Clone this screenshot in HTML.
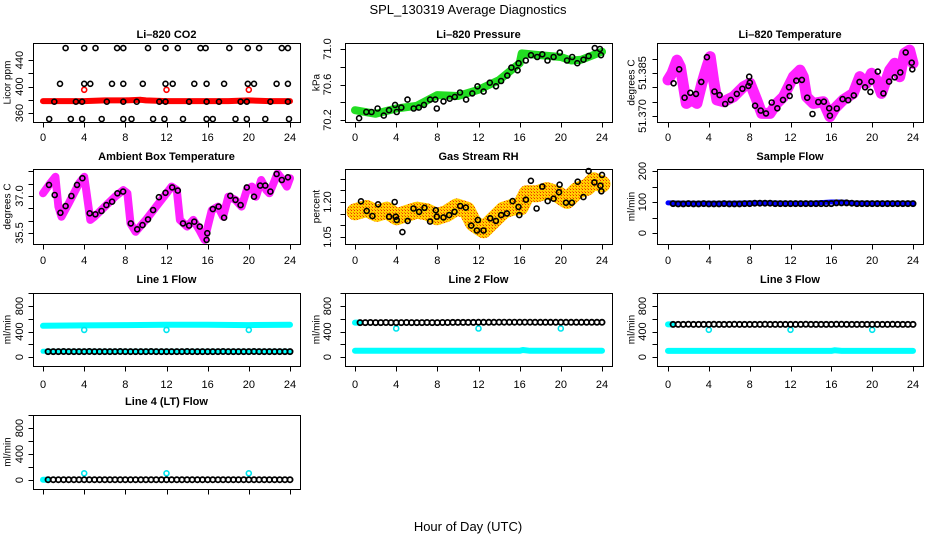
<!DOCTYPE html>
<html><head><meta charset="utf-8">
<style>
html,body{margin:0;padding:0;background:#fff;}
svg{display:block;font-family:"Liberation Sans",Arial,sans-serif;}
</style></head>
<body>
<svg id="c" width="936" height="540" viewBox="0 0 936 540" xmlns="http://www.w3.org/2000/svg">
<defs>
<pattern id="rhpat" width="3" height="3" patternUnits="userSpaceOnUse">
<rect width="3" height="3" fill="#ffd000"/><rect width="1" height="1" fill="#e83000"/><rect x="2" y="2" width="1" height="1" fill="#ff7000"/>
</pattern>
</defs>
<text x="468" y="14" text-anchor="middle" font-size="13">SPL_130319  Average Diagnostics</text>
<text x="468" y="531" text-anchor="middle" font-size="13">Hour of Day (UTC)</text>
</svg>
<script>
// ---------- data ----------
const xTicks = [0,4,8,12,16,20,24];
// CO2
const co2TopH = [2.2,4.0,5.1,7.2,7.8,10.2,11.9,13.1,15.3,15.8,18.1,19.9,21.0,23.2,23.8];
const co2TopV = [458,458,458,458,458,458,458,458,458,458,458,458,458,458,458];
const co2Mid1H = [1.65,4.0,4.6,6.7,7.8,9.7,11.9,12.6,14.7,15.9,17.6,19.9,20.5,22.7,23.8];
const co2Mid1V = [404,404,404,404,404,404,404,404,404,404,404,404,404,404,404];
const co2Mid2H = [1.1,3.2,3.8,6.2,7.8,9.1,11.3,11.9,14.2,15.9,17.1,19.2,19.8,22.1,23.8];
const co2Mid2V = [377,377,377,377,377,377,377,377,377,377,377,377,377,377,377];
const co2LowH = [0.6,2.7,3.8,5.7,7.8,8.6,10.7,11.8,13.6,15.9,16.5,18.7,19.8,21.6,23.9];
const co2LowV = [351,351,351,351,351,351,351,351,351,351,351,351,351,351,351];
const co2BandH = [0,2,4,6,8,9.5,10,12,14,16,18,20,22,24];
const co2BandV = [378,378,378,379,379,380,379,378,378,378,378,379,378,378];
const co2RedH = [4,12,20];
const co2RedV = [395,395,395];
// Pressure
const presBandH = [0,2,4,6,8,10,12,14,16,16.2,18,20,21,22,24];
const presBandV = [70.31,70.27,70.33,70.36,70.48,70.47,70.54,70.65,70.84,70.95,70.93,70.91,70.87,70.88,70.97];
const presH = [0.4,1.1,1.6,2.2,2.8,3.3,3.9,4.05,4.5,5.1,5.7,6.2,6.7,7.3,7.8,7.95,8.6,9.2,9.7,10.2,10.8,11.4,11.9,12.5,13.1,13.7,14.2,14.8,15.2,15.9,15.8,16.6,17.1,17.7,18.2,18.7,19.3,19.9,20.6,21.1,21.6,22.2,22.7,23.3,23.8,23.9];
const presV = [70.22,70.29,70.29,70.33,70.25,70.31,70.37,70.29,70.34,70.43,70.33,70.34,70.37,70.43,70.43,70.33,70.41,70.44,70.46,70.51,70.43,70.50,70.58,70.52,70.62,70.58,70.64,70.70,70.79,70.84,70.76,70.87,70.93,70.91,70.94,70.87,70.91,70.96,70.87,70.91,70.84,70.88,70.92,71.01,71.00,70.93];
// Li-820 temperature (thousandths of a degree above 51.370)
const liTempBase = 51.370;
const liBandH = [0,0.39,0.88,1.2,1.53,1.79,2.34,2.83,3.32,3.81,4.13,4.46,4.79,5.44,6.41,7.39,8.04,8.69,9.18,10.0,10.65,11.3,11.79,12.28,12.93,13.25,13.58,14.23,15.21,15.86,16.35,17.16,18.14,18.79,19.44,19.93,20.42,20.9,21.72,22.21,22.7,23.18,23.67,24];
const liBandMilli = [12.6,14.9,19.5,17.2,10.2,4.4,5.6,4.4,11.4,17.2,20.7,12.6,5.6,5.0,6.7,10.2,11.4,5.6,0.9,0.9,4.4,6.7,10.2,13.7,16.0,13.7,6.7,4.4,5.0,-0.2,2.7,5.6,7.9,13.7,11.4,14.9,12.6,7.9,16.0,18.4,13.7,21.9,23.0,18.4];
const liH = [0.55,1.1,1.63,2.18,2.74,3.26,3.81,4.56,5.05,5.6,6.15,6.74,7.29,7.88,7.95,8.01,8.53,9.08,9.6,10.16,10.71,11.27,11.85,11.92,12.57,13.12,13.64,14.16,14.72,15.27,15.79,15.86,16.54,17.1,17.65,18.2,18.76,19.31,19.83,19.93,20.55,21.1,21.66,22.21,22.76,23.28,23.87,23.93];
const liMilli = [11.4,16.3,6.4,8.1,7.7,11.9,20.5,8.5,7.3,4.2,5.6,7.7,9.5,10.5,13.7,11.6,3.6,1.9,0.9,4.7,2.7,5.6,10.0,7.0,12.3,12.6,6.4,0.7,4.9,5.0,2.7,0.1,2.6,5.9,5.5,7.2,11.9,10.0,8.4,12.0,15.5,7.9,12.0,13.5,15.2,22.2,18.6,16.3];
// Ambient box temperature
const ambBandH = [0,0.7,1.2,1.5,1.8,2.5,3.5,4,4.2,4.6,5,6,7,7.8,8.2,8.5,9,10,11,12,12.5,13,13.3,14,14.6,15.2,15.7,16,16.4,17,17.5,18,18.7,19.3,19.8,20.3,20.7,21.2,21.7,22,22.4,22.8,23.3,23.7,24];
const ambBandV = [37.11,37.51,37.78,36.57,36.16,36.70,37.51,37.78,37.24,36.03,36.16,36.57,36.97,37.24,37.11,35.89,35.55,36.03,36.57,37.11,37.38,37.24,36.03,35.76,36.03,35.62,35.22,35.76,36.43,36.57,36.16,36.97,36.84,36.57,37.24,37.38,36.97,37.65,37.24,37.11,37.51,37.92,37.65,37.38,37.72];
const ambH = [0.58,1.14,1.69,2.2,2.76,3.3,3.83,4.54,5.09,5.68,6.16,6.71,7.23,7.78,8.53,9.15,9.67,10.2,10.7,11.26,11.9,12.55,13.1,13.6,14.2,14.7,15.24,15.9,15.96,16.5,17.06,17.6,18.2,18.7,19.2,19.8,20.5,21.1,21.6,22.1,22.7,23.2,23.8];
const ambV = [37.45,37.04,36.32,36.59,37.00,37.45,37.72,36.30,36.26,36.39,36.63,36.77,37.11,37.18,35.89,35.65,35.82,36.05,36.43,36.95,37.13,37.35,37.22,35.89,35.80,35.96,35.76,35.22,35.49,36.47,36.57,36.12,37.01,36.84,36.63,37.35,36.97,37.42,37.42,37.18,37.89,37.65,37.76];
// Gas stream RH
const rhBandH = [0,1.14,2.11,3.08,4.05,5.03,6.0,6.97,7.95,8.92,9.89,10.87,11.51,12.49,13.46,14.43,15.41,16.06,16.7,17.68,18.65,19.62,20.6,21.57,22.54,23.19,24];
const rhBandV = [1.158,1.172,1.151,1.165,1.137,1.151,1.165,1.158,1.137,1.151,1.179,1.165,1.109,1.081,1.123,1.165,1.179,1.179,1.235,1.235,1.249,1.235,1.207,1.249,1.263,1.291,1.277];
const rhH = [0.58,1.14,1.69,2.24,3.31,3.86,3.96,4.05,4.61,5.12,5.68,6.23,6.75,7.30,7.85,7.95,8.6,9.15,9.67,10.22,10.77,11.29,11.84,11.94,12.49,13.14,13.69,14.21,14.76,15.31,15.89,15.96,16.61,17.09,17.65,18.2,18.72,19.3,19.82,19.88,20.5,21.08,21.64,22.19,22.7,23.26,23.84,23.94,24.0];
const rhV = [1.203,1.162,1.140,1.190,1.137,1.200,1.137,1.123,1.071,1.119,1.172,1.158,1.175,1.116,1.165,1.137,1.134,1.144,1.158,1.183,1.176,1.099,1.078,1.123,1.078,1.130,1.119,1.144,1.151,1.204,1.179,1.144,1.210,1.291,1.172,1.266,1.204,1.214,1.242,1.274,1.197,1.197,1.287,1.221,1.333,1.284,1.270,1.246,1.316];
// Flows (half-hourly samples)
const flowH = [0.5,1,1.5,2,2.5,3,3.5,4,4.5,5,5.5,6,6.5,7,7.5,8,8.5,9,9.5,10,10.5,11,11.5,12,12.5,13,13.5,14,14.5,15,15.5,16,16.5,17,17.5,18,18.5,19,19.5,20,20.5,21,21.5,22,22.5,23,23.5,24];
const sampleV = [95,94,94,95,94,94,95,94,94,94,95,94,94,94,95,95,96,96,96,96,95,95,95,95,95,95,95,95,95,95,95,95,97,97,97,96,95,95,95,95,95,95,95,95,95,95,95,95];
const sampleBandH = [0,2,4,6,8,10,12,14,16,17,18,20,22,24];
const sampleBandV = [97,96,96,96,97,97,96,96,100,100,97,96,96,96];
const line1V = [85,85,85,86,85,85,85,85,86,85,85,85,85,85,86,85,85,85,85,85,86,85,85,85,85,85,85,86,85,85,85,85,85,85,86,85,85,85,85,85,86,85,85,85,85,85,85,85];
const line2V = [540,540,541,540,540,541,540,540,540,541,540,540,540,541,540,540,541,541,542,542,542,542,542,544,545,545,545,546,546,546,546,546,546,546,545,545,545,545,545,545,545,544,544,544,544,544,544,544];
const line3V = [512,512,512,513,512,512,512,512,513,512,512,512,513,512,512,512,512,512,513,512,512,512,512,512,512,512,513,512,512,512,512,512,513,513,512,512,512,512,512,512,512,512,512,513,512,512,512,512];
const line4V = [5,5,5,5,5,5,5,5,5,5,5,5,5,5,5,5,5,5,5,5,5,5,5,5,5,5,5,5,5,5,5,5,5,5,5,5,5,5,5,5,5,5,5,5,5,5,5,5];
const line1UpperBandH = [0,4,8,12,16,20,24];
const line1UpperBandV = [490,495,500,505,505,500,505];
const lowerBandH = [0,8,16,16.3,17,24];
const line1LowerV = [90,90,90,90,90,90];
const line2LowerV = [97,97,97,110,97,97];
const line3LowerV = [95,95,95,105,95,95];
const spikeH = [4,12,20];
const line1SpikeV = [425,425,425];
const line2SpikeV = [447,447,447];
const line3SpikeV = [426,426,426];
const line4SpikeV = [103,103,103];

// ---------- layout ----------
const NS = 'http://www.w3.org/2000/svg';
const svg = document.getElementById('c');
const cols = [
 {bx:33,bw:267,x0:43,x24:290,lab:20,tit:8},
 {bx:345,bw:267,x0:355,x24:602,lab:328,tit:317},
 {bx:657,bw:266,x0:668,x24:913,lab:643,tit:632}];
const rows = [
 {by:43,bh:79,title:38,xl:141},
 {by:169,bh:75,title:160,xl:264},
 {by:293,bh:73,title:283,xl:388},
 {by:415,bh:74,title:405,xl:null}];

function el(tag, attrs, parent){
  const e = document.createElementNS(NS, tag);
  for (const k in attrs) e.setAttribute(k, attrs[k]);
  (parent||svg).appendChild(e);
  return e;
}

function panel(name, title, ylab, c, r, v1, p1, v2, p2, yt, ylabels){
  const C = cols[c], R = rows[r];
  const g = el('g', {});
  
  
  const xs = h => C.x0 + (h/24)*(C.x24 - C.x0);
  const ys = v => p1 + (v - v1)*(p2 - p1)/(v2 - v1);
  const plot = el('g', {}, g);
  
  
  const box = el('rect', {x:C.bx+0.5, y:R.by+0.5, width:C.bw, height:R.bh, fill:'none', stroke:'#000', 'stroke-width':1}, g);
  
  
  const t = el('text', {x:(C.bx + C.bx + C.bw)/2, y:R.title, 'text-anchor':'middle', 'font-size':11, 'font-weight':'bold'}, g);
  t.textContent = title;
  
  
  const xa = el('g', {}, g);
  
  
  const yb = R.by + R.bh + 0.5;
  el('line', {x1:xs(0), x2:xs(24), y1:yb, y2:yb, stroke:'#000'}, xa);
  xTicks.forEach(h => {
    el('line', {x1:Math.round(xs(h))+0.5, x2:Math.round(xs(h))+0.5, y1:yb, y2:yb+5, stroke:'#000'}, xa);
    if (R.xl) {
      const tl = el('text', {x:xs(h), y:R.xl, 'text-anchor':'middle', 'font-size':11}, xa);
      tl.textContent = h;
      
      
    }
  });
  const ya = el('g', {}, g);
  
  
  const xb = C.bx + 0.5;
  el('line', {x1:xb, x2:xb, y1:ys(yt[0]), y2:ys(yt[yt.length-1]), stroke:'#000'}, ya);
  yt.forEach(v => {
    const y = Math.round(ys(v)) + 0.5;
    el('line', {x1:xb-5, x2:xb, y1:y, y2:y, stroke:'#000'}, ya);
  });
  ylabels.forEach(([v, s]) => {
    const y = ys(v);
    const tl = el('text', {x:C.lab, y:y, 'text-anchor':'middle', 'dominant-baseline':'central', 'font-size':11, transform:`rotate(-90 ${C.lab} ${y})`}, ya);
    tl.textContent = s;
    
    
  });
  const yc = R.by + R.bh/2;
  const yl = el('text', {x:C.tit, y:yc, 'text-anchor':'middle', 'dominant-baseline':'central', 'font-size':10, transform:`rotate(-90 ${C.tit} ${yc})`}, g);
  yl.textContent = ylab;
  
  
  return {xs, ys, plot};
}

function band(P, H, V, color, w, name){
  const pts = H.map((h,i) => P.xs(h).toFixed(1) + ',' + P.ys(V[i]).toFixed(1)).join(' ');
  const pl = el('polyline', {points:pts, fill:'none', stroke:color, 'stroke-width':w, 'stroke-linejoin':'round', 'stroke-linecap':'round'}, P.plot);
  
  
}
function circles(P, H, V, color, name, r, sw){
  H.forEach((h,i) => {
    const ci = el('circle', {cx:P.xs(h).toFixed(1), cy:P.ys(V[i]).toFixed(1), r:r||2.5, fill:'none', stroke:color, 'stroke-width':sw||1.6}, P.plot);
    
    
  });
}

// ---------- panels ----------
const pCO2 = panel('co2', 'Li\u2013820 CO2', 'Licor ppm', 0, 0, 360, 113, 440, 60, [360,380,400,420,440], [[360,'360'],[400,'400'],[440,'440']]);
band(pCO2, co2BandH, co2BandV, '#ff0000', 6, 'co2-red-band');
circles(pCO2, co2RedH, co2RedV, '#ff0000', 'co2-red-point');
circles(pCO2, co2TopH, co2TopV, '#000', 'co2-point');
circles(pCO2, co2Mid1H, co2Mid1V, '#000', 'co2-point');
circles(pCO2, co2Mid2H, co2Mid2V, '#000', 'co2-point');
circles(pCO2, co2LowH, co2LowV, '#000', 'co2-point');

const pPres = panel('pressure', 'Li\u2013820 Pressure', 'kPa', 1, 0, 70.2, 120, 71.0, 49, [70.2,70.4,70.6,70.8,71.0], [[70.2,'70.2'],[70.6,'70.6'],[71.0,'71.0']]);
band(pPres, presBandH, presBandV, '#22dd22', 8, 'pressure-green-band');
circles(pPres, presH, presV, '#000', 'pressure-point');

const liV = liMilli.map(m => liTempBase + m/1000);
const liBV = liBandMilli.map(m => liTempBase + m/1000);
const pLi = panel('li-temperature', 'Li\u2013820 Temperature', 'degrees C', 2, 0, 51.370, 116, 51.385, 73, [51.370,51.375,51.380,51.385,51.390], [[51.370,'51.370'],[51.385,'51.385']]);
band(pLi, liBandH, liBV, '#ff22ff', 11, 'li-temperature-magenta-band');
circles(pLi, liH, liV, '#000', 'li-temperature-point');

const pAmb = panel('ambient-temperature', 'Ambient Box Temperature', 'degrees C', 0, 1, 35.5, 233, 37.0, 196, [35.5,36.0,36.5,37.0,37.5,38.0], [[35.5,'35.5'],[37.0,'37.0']]);
band(pAmb, ambBandH, ambBandV, '#ff22ff', 8, 'ambient-magenta-band');
circles(pAmb, ambH, ambV, '#000', 'ambient-point');

const pRH = panel('gas-rh', 'Gas Stream RH', 'percent', 1, 1, 1.05, 237, 1.20, 202, [1.05,1.10,1.15,1.20,1.25,1.30], [[1.05,'1.05'],[1.20,'1.20']]);
band(pRH, rhBandH, rhBandV, 'url(#rhpat)', 17, 'rh-orange-band');
circles(pRH, rhH, rhV, '#000', 'rh-point');

const pSF = panel('sample-flow', 'Sample Flow', 'ml/min', 2, 1, 0, 233, 200, 171, [0,50,100,150,200], [[0,'0'],[100,'100'],[200,'200']]);
band(pSF, sampleBandH, sampleBandV, '#0000ff', 5, 'sample-flow-blue-band');
circles(pSF, flowH, sampleV, '#000', 'sample-flow-point', 2.6, 1.8);

const fTicks = [0,200,400,600,800,1000];
const fLabels = [[0,'0'],[400,'400'],[800,'800']];
const pL1 = panel('line1-flow', 'Line 1 Flow', 'ml/min', 0, 2, 0, 357, 800, 306, fTicks, fLabels);
band(pL1, line1UpperBandH, line1UpperBandV, '#00ffff', 6, 'line1-upper-cyan-band');
band(pL1, lowerBandH, line1LowerV, '#00ffff', 5, 'line1-lower-cyan-band');
circles(pL1, spikeH, line1SpikeV, '#00e5ee', 'line1-cyan-point');
circles(pL1, flowH, line1V, '#000', 'line1-flow-point', 2.6, 1.8);

const pL2 = panel('line2-flow', 'Line 2 Flow', 'ml/min', 1, 2, 0, 357, 800, 306, fTicks, fLabels);
band(pL2, lowerBandH, line2LowerV, '#00ffff', 6, 'line2-lower-cyan-band');
band(pL2, [0,0.4], [540,540], '#00ffff', 6, 'line2-upper-cyan-band');
circles(pL2, spikeH, line2SpikeV, '#00e5ee', 'line2-cyan-point');
circles(pL2, flowH, line2V, '#000', 'line2-flow-point', 2.6, 1.8);

const pL3 = panel('line3-flow', 'Line 3 Flow', 'ml/min', 2, 2, 0, 357, 800, 306, fTicks, fLabels);
band(pL3, lowerBandH, line3LowerV, '#00ffff', 6, 'line3-lower-cyan-band');
band(pL3, [0,0.4], [512,512], '#00ffff', 6, 'line3-upper-cyan-band');
circles(pL3, spikeH, line3SpikeV, '#00e5ee', 'line3-cyan-point');
circles(pL3, flowH, line3V, '#000', 'line3-flow-point', 2.6, 1.8);

const pL4 = panel('line4-flow', 'Line 4 (LT) Flow', 'ml/min', 0, 3, 0, 480, 800, 428, fTicks, fLabels);
band(pL4, [0,0.4], [5,5], '#00ffff', 6, 'line4-cyan-band');
circles(pL4, spikeH, line4SpikeV, '#00e5ee', 'line4-cyan-point');
circles(pL4, flowH, line4V, '#000', 'line4-flow-point', 2.6, 1.8);
</script>
</body></html>
